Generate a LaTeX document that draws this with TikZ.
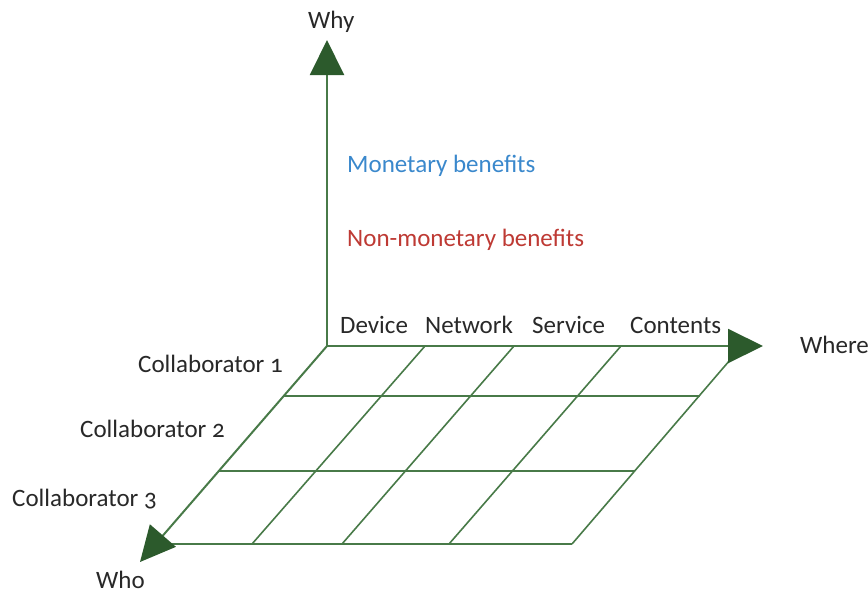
\documentclass[tikz,border=0pt]{standalone}
\usepackage{fontspec}
\setmainfont{Carlito}[Numbers=OldStyle]
\usetikzlibrary{arrows.meta}
\definecolor{axisgreen}{RGB}{44,90,44}
\definecolor{gridgreen}{RGB}{72,122,72}
\definecolor{moneyblue}{RGB}{58,136,204}
\definecolor{nonmoneyred}{RGB}{190,58,52}
\definecolor{labelgray}{RGB}{40,40,40}

\begin{document}
\begin{tikzpicture}[x=1pt,y=-1pt,
        axisline/.style={gridgreen,line width=2pt,-{Triangle[length=35pt,width=34pt,color=axisgreen]}},
        gridline/.style={gridgreen,line width=1.6pt},
        lbl/.style={font=\fontsize{25}{30}\selectfont,text=labelgray,inner sep=0pt,anchor=base west}]
    \useasboundingbox (0,0) rectangle (868,595);

    % the three axes meet here
    \coordinate (O) at (327,346);
    \coordinate (whytip) at (327,40);
    \coordinate (wheretip) at (763,346);
    \coordinate (whotip) at (140,562);

    % grid on the floor
    \coordinate (t1) at (425,346);
    \coordinate (t2) at (514,346);
    \coordinate (t3) at (621,346);
    \coordinate (t4) at (742,346);
    \coordinate (b1) at (252,544);
    \coordinate (b2) at (342,544);
    \coordinate (b3) at (449,544);
    \coordinate (b4) at (572,544);
    \coordinate (l1) at (284,396);
    \coordinate (l2) at (219,471);
    \coordinate (l3) at (156,544);
    \coordinate (r1) at (700,396);
    \coordinate (r2) at (635,471);
    \coordinate (r3) at (572,544);
    \foreach \i in {1,...,4} \draw[gridline] (t\i) -- (b\i);
    \foreach \i in {1,2,3} \draw[gridline] (l\i) -- (r\i);

    \draw[axisline] (O) -- (whytip);
    \draw[axisline] (O) -- (wheretip);
    \draw[axisline] (O) -- (whotip);

    % labels
    \node[lbl] (why) at (308,28) {Why};
    \node[lbl] (where) at (800,353) {Where};
    \node[lbl] (who) at (96,588) {Who};
    \node[lbl,text=moneyblue] (money) at (347,172) {Monetary benefits};
    \node[lbl,text=nonmoneyred] (nonmoney) at (347,246) {Non-monetary benefits};
    \node[lbl] (device) at (340,333) {Device};
    \node[lbl] (network) at (425,333) {Network};
    \node[lbl] (service) at (532,333) {Service};
    \node[lbl] (contents) at (630,333) {Contents};
    \node[lbl] (collab1) at (138,372) {Collaborator 1};
    \node[lbl] (collab2) at (80,437) {Collaborator 2};
    \node[lbl] (collab3) at (12,506) {Collaborator 3};
\end{tikzpicture}
\end{document}
